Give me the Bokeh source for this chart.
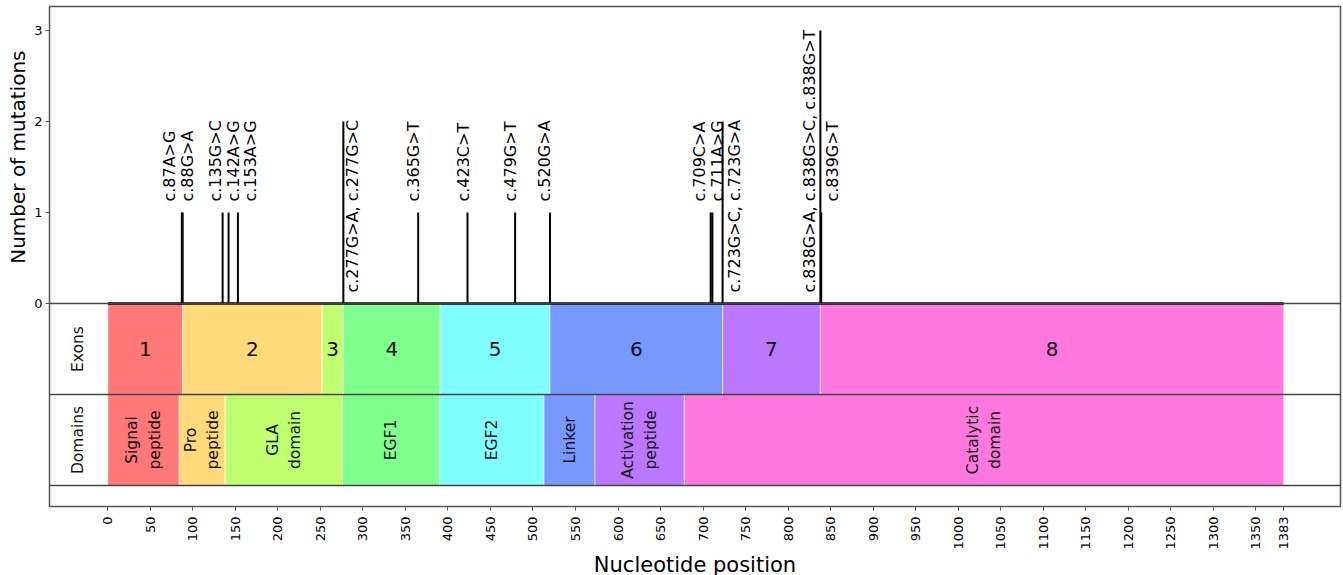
import math
from bokeh.plotting import figure
from bokeh.models import FixedTicker, Span, ColumnDataSource, Title
from bokeh.core.properties import value
from bokeh.embed import file_html
from bokeh.resources import INLINE

# ---------------- data ----------------
mut_pos = [87, 88, 135, 142, 153, 277, 365, 423, 479, 520, 709, 711, 723, 838, 839]
mut_count = [1, 1, 1, 1, 1, 2, 1, 1, 1, 1, 1, 1, 2, 3, 1]
mut_label = ["c.87A>G", "c.88G>A", "c.135G>C", "c.142A>G", "c.153A>G",
             "c.277G>A, c.277G>C", "c.365G>T", "c.423C>T", "c.479G>T", "c.520G>A",
             "c.709C>A", "c.711A>G", "c.723G>C, c.723G>A",
             "c.838G>A, c.838G>C, c.838G>T", "c.839G>T"]

exon_names = ["1", "2", "3", "4", "5", "6", "7", "8"]
exon_start = [0, 88, 252, 277, 391, 520, 723, 838]
exon_end = [88, 252, 277, 391, 520, 723, 838, 1383]

domain_names = ["Signal\npeptide", "Pro\npeptide", "GLA\ndomain", "EGF1", "EGF2",
                "Linker", "Activation\npeptide", "Catalytic\ndomain"]
domain_start = [0, 84, 138, 276, 390, 513, 573, 678]
domain_end = [84, 138, 276, 390, 513, 573, 678, 1383]

colors = ["#FF7878", "#FFD97A", "#BFFF70", "#7FFF8D", "#7FFFFF", "#7799FF", "#BB78FF", "#FF78DD"]

seq_length = 1383
x_ticks = [0, 50, 100, 150, 200, 250, 300, 350, 400, 450, 500, 550, 600, 650, 700,
           750, 800, 850, 900, 950, 1000, 1050, 1100, 1150, 1200, 1250, 1300, 1350, 1383]
y_ticks = [0, 1, 2, 3]

# label pixel offsets (style)
label_dx = [-12, 5, -7, 5, 13, 9.5, -4.5, -4.5, -4.5, -5, -11, 5, 12, -11, 11.5]

FONT = "DejaVu Sans"

p = figure(frame_width=1291, frame_height=500, x_range=(-68.6, 1449.7), y_range=(-2.231, 3.264),
           output_backend="svg", toolbar_location=None,
           min_border_left=49, min_border_right=3, min_border_top=6, min_border_bottom=20)
p.xgrid.visible = False
p.ygrid.visible = False
p.outline_line_color = "#555555"
p.outline_line_width = 1.5

# exon / domain bands
p.quad(left=exon_start, right=exon_end, top=0, bottom=-1, fill_color=colors,
       line_color="white", line_alpha=0.6, line_width=1)
p.quad(left=domain_start, right=domain_end, top=-1, bottom=-2, fill_color=colors,
       line_color="white", line_alpha=0.6, line_width=1)
for yy in [0, -1, -2]:
    p.add_layout(Span(location=yy, dimension="width", line_color="#444444", line_width=1.5))

# mutation track
p.segment(x0=[0], y0=[0], x1=[seq_length], y1=[0], line_color="black", line_width=2.5)
p.segment(x0=mut_pos, y0=[0] * len(mut_pos), x1=mut_pos, y1=mut_count,
          line_color="black", line_width=2)

label_y = [(0 if ", " in t else c) + 0.12 for t, c in zip(mut_label, mut_count)]
src = ColumnDataSource(dict(x=mut_pos, y=label_y, t=mut_label, dx=label_dx))
p.text(x="x", y="y", text="t", x_offset="dx", source=src, angle=math.pi / 2,
       text_align="left", text_baseline="middle", text_font=value(FONT),
       text_font_size="16px", text_color="black")

p.text(x=[(a + b) / 2 for a, b in zip(exon_start, exon_end)], y=[-0.5] * len(exon_names),
       text=exon_names, text_align="center", text_baseline="middle",
       text_font=value(FONT), text_font_size="20px", text_color="#111111")

p.text(x=[(a + b) / 2 for a, b in zip(domain_start, domain_end)], y=[-1.5] * len(domain_names),
       text=domain_names, angle=math.pi / 2, text_align="center", text_baseline="middle",
       text_font=value(FONT), text_font_size="15.5px", text_color="#111111", text_line_height=1.25)

p.text(x=[-34.5, -34.5], y=[-0.5, -1.5], text=["Exons", "Domains"], angle=math.pi / 2,
       text_align="center", text_baseline="middle", text_font=value(FONT),
       text_font_size="15.5px", text_color="#111111")

# axes
p.yaxis.ticker = FixedTicker(ticks=y_ticks)
p.yaxis.minor_tick_line_color = None
p.yaxis.major_tick_in = 0
p.yaxis.major_tick_out = 4
p.yaxis.major_label_standoff = 3
p.yaxis.axis_line_color = "#555555"
p.yaxis.major_tick_line_color = "#555555"
p.yaxis.major_label_text_font = FONT
p.yaxis.major_label_text_font_size = "13px"
p.yaxis.major_label_text_color = "black"

p.xaxis.ticker = FixedTicker(ticks=x_ticks)
p.xaxis.minor_tick_line_color = None
p.xaxis.major_tick_in = 0
p.xaxis.major_tick_out = 4
p.xaxis.major_label_standoff = 6
p.xaxis.major_label_orientation = math.pi / 2
p.xaxis.axis_line_color = "#555555"
p.xaxis.major_tick_line_color = "#555555"
p.xaxis.major_label_text_font = FONT
p.xaxis.major_label_text_font_size = "13px"
p.xaxis.major_label_text_color = "black"
p.xaxis.axis_label = "Nucleotide position"
p.xaxis.axis_label_text_font = FONT
p.xaxis.axis_label_text_font_size = "21px"
p.xaxis.axis_label_text_font_style = "normal"
p.xaxis.axis_label_text_color = "black"
p.xaxis.axis_label_standoff = 0

p.add_layout(Title(text="Number of mutations", align="right", offset=44, standoff=3,
                   text_font=FONT, text_font_size="20px", text_font_style="normal",
                   text_color="black"), "left")

open("out.html", "w").write(file_html(p, INLINE))
